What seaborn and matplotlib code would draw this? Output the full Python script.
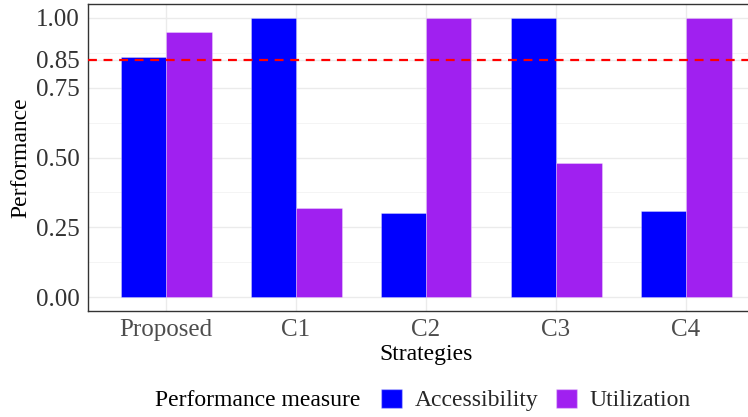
import seaborn as sns
import matplotlib.pyplot as plt
import pandas as pd
from matplotlib.patches import Patch

# values
strategies = ["Proposed", "C1", "C2", "C3", "C4"]
accessibility = [0.86, 1.00, 0.30, 1.00, 0.31]
utilization = [0.95, 0.32, 1.00, 0.48, 1.00]
measures = ["Accessibility", "Utilization"]
threshold = 0.85
y_ticks = [0.00, 0.25, 0.50, 0.75, 1.00]

df = pd.DataFrame({
    "Strategies": strategies * 2,
    "Performance": accessibility + utilization,
    "Performance measure": [measures[0]] * 5 + [measures[1]] * 5,
})

sns.set_theme(style="white")
plt.rcParams["font.family"] = ["Liberation Serif", "DejaVu Serif"]

W, H = 748, 417
fig = plt.figure(figsize=(W / 100, H / 100), dpi=100)
ax = fig.add_axes([88 / W, (H - 311) / H, (764 - 88) / W, (311 - 4) / H])

sns.barplot(data=df, x="Strategies", y="Performance", hue="Performance measure",
            palette=["#0000FF", "#A020F0"], width=0.7, saturation=1,
            edgecolor="none", legend=False, ax=ax)
for p in ax.patches:
    p.set_edgecolor((1, 1, 1, 0.35))
    p.set_linewidth(0.6)

# threshold line
ax.axhline(threshold, color="red", linestyle=(0, (4, 3)), linewidth=1.6, zorder=5)

ax.set_xlim(-0.6, 4.6)
ax.set_ylim(-0.05, 1.05)
ticks = sorted(y_ticks + [threshold])
ax.set_yticks(ticks)
ax.set_yticklabels([f"{t:.2f}" for t in ticks])
for lab, t in zip(ax.get_yticklabels(), ticks):
    lab.set_color("red" if t == threshold else "#4D4D4D")
ax.set_yticks([0.125, 0.375, 0.625, 0.875], minor=True)

ax.grid(True, which="major", color="#EBEBEB", linewidth=1.0)
ax.grid(True, which="minor", axis="y", color="#F2F2F2", linewidth=0.6)
ax.set_axisbelow(True)

ax.tick_params(axis="both", which="major", labelsize=18, colors="#333333",
               length=4, width=0.8, pad=2)
ax.tick_params(axis="x", labelcolor="#4D4D4D")
ax.tick_params(which="minor", length=0)

for s in ax.spines.values():
    s.set_color("#333333")
    s.set_linewidth(1.0)

ax.set_xlabel("Strategies", fontsize=17, color="black", labelpad=2)
ax.set_ylabel("Performance", fontsize=17, color="black", labelpad=3)

# legend at the bottom with its title on the left
handles = [Patch(facecolor=c, edgecolor=(1, 1, 1, 0.35)) for c in ["#0000FF", "#A020F0"]]
fig.text(155 / W, 1 - 400 / H, "Performance measure", fontsize=17,
         ha="left", va="center", color="black")
fig.legend(handles, measures, loc="center left", bbox_to_anchor=(381 / W, 1 - 400 / H),
           ncol=2, frameon=False, fontsize=17, handlelength=0.9, handleheight=0.9,
           handletextpad=0.55, columnspacing=0.7, borderpad=0, borderaxespad=0)

fig.savefig("out.png", dpi=100)
